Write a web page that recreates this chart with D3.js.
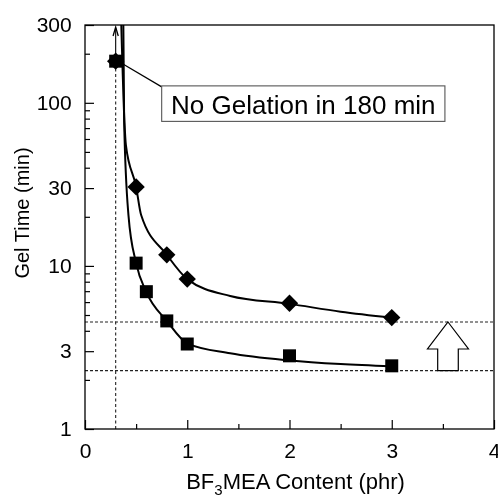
<!DOCTYPE html>
<html>
<head>
<meta charset="utf-8">
<script src="https://cdn.jsdelivr.net/npm/d3@7"></script>
<style>
  html, body { margin: 0; padding: 0; background: #fff; }
  svg { display: block; font-family: "Liberation Sans", Arial, Helvetica, sans-serif;
        will-change: transform; -webkit-font-smoothing: antialiased; }
</style>
</head>
<body>
<svg id="chart" width="498" height="495"></svg>
<script>
// Gel time vs. BF3MEA content
const diamondX = [0.3, 0.5, 0.8, 1.0, 2.0, 3.0];
const diamondY = [180, 30.5, 11.7, 8.3, 5.9, 4.82];
const squareX  = [0.3, 0.5, 0.6, 0.8, 1.0, 2.0, 3.0];
const squareY  = [180, 10.4, 6.95, 4.6, 3.32, 2.81, 2.44];

// fitted trend lines (sampled)
const diamondFitX = [0.355, 0.386, 0.40, 0.5, 0.549, 0.8, 1.0, 1.42, 2.0, 2.5, 3.0];
const diamondFitY = [300, 76, 55, 30.5, 20.5, 11.7, 8.3, 6.54, 5.85, 5.24, 4.82];
const squareFitX  = [0.375, 0.383, 0.425, 0.5, 0.6, 0.8, 1.0, 1.42, 2.0, 2.5, 3.0];
const squareFitY  = [300, 76, 20.5, 10.4, 6.9, 4.6, 3.35, 2.91, 2.63, 2.5, 2.42];

// reference levels
const refLevels = [4.53, 2.28];
const noGelX = 0.3;

const xMajorTicks = [0, 1, 2, 3, 4];
const xTickLabels = ["0", "1", "2", "3", "4"];
const xMinorTicks = [0.5, 1.5, 2.5, 3.5];
const yMajorTicks = [1, 3, 10, 30, 100, 300];
const yTickLabels = ["1", "3", "10", "30", "100", "300"];
const yMinorTicks = [2, 4, 5, 6, 7, 8, 9, 20, 40, 50, 60, 70, 80, 90, 200];

const calloutText = "No Gelation in 180 min";

const svg = d3.select("#chart");
const L = 85, T = 25, R = 494, B = 429;

const x = d3.scaleLinear().domain([0, 4]).range([L, R]);
const y = d3.scaleLog().domain([1, 300]).range([B, T]);

const FONT = 21;

// reference dashed lines
svg.append("g").selectAll("line").data(refLevels).join("line")
  .attr("x1", L).attr("x2", R)
  .attr("y1", d => y(d)).attr("y2", d => y(d))
  .attr("stroke", "#222").attr("stroke-width", 1.1)
  .attr("stroke-dasharray", "3,2");

// vertical dashed line at the no-gelation content, arrow upward
const vx = x(noGelX);
svg.append("line")
  .attr("x1", vx).attr("x2", vx)
  .attr("y1", B).attr("y2", y(180))
  .attr("stroke", "#222").attr("stroke-width", 1.1)
  .attr("stroke-dasharray", "3,2.5");
svg.append("line")
  .attr("x1", vx).attr("x2", vx)
  .attr("y1", y(180)).attr("y2", T + 3)
  .attr("stroke", "#000").attr("stroke-width", 1.1);
svg.append("path")
  .attr("d", `M${vx - 2.6},${T + 11} L${vx},${T + 2} L${vx + 2.6},${T + 11}`)
  .attr("fill", "none").attr("stroke", "#000").attr("stroke-width", 1.3);

// hollow arrow between the reference levels
{
  const ax = x(3.55), top = y(refLevels[0]), bot = y(refLevels[1]);
  const headBase = top + 27, hw = 20.5, sw = 10.3;
  svg.append("path")
    .attr("d", `M${ax},${top} L${ax + hw},${headBase} L${ax + sw},${headBase} L${ax + sw},${bot}
                L${ax - sw},${bot} L${ax - sw},${headBase} L${ax - hw},${headBase} Z`)
    .attr("fill", "#fff").attr("stroke", "#000").attr("stroke-width", 1.2)
    .attr("stroke-linejoin", "miter");
}

// fitted curves
const line = d3.line().x(d => x(d[0])).y(d => y(d[1])).curve(d3.curveMonotoneX);
svg.append("path")
  .datum(diamondFitX.map((v, i) => [v, diamondFitY[i]]))
  .attr("d", line).attr("fill", "none").attr("stroke", "#000").attr("stroke-width", 2);
svg.append("path")
  .datum(squareFitX.map((v, i) => [v, squareFitY[i]]))
  .attr("d", line).attr("fill", "none").attr("stroke", "#000").attr("stroke-width", 2);

// callout leader and box
const bx0 = x(0.75), by0 = y(127), bx1 = x(3.52), by1 = by0 + 35.5;
svg.append("line")
  .attr("x1", x(noGelX) + 6).attr("y1", y(180) + 2)
  .attr("x2", bx0).attr("y2", by0 + 1)
  .attr("stroke", "#000").attr("stroke-width", 1.2);
svg.append("rect")
  .attr("x", bx0).attr("y", by0)
  .attr("width", bx1 - bx0).attr("height", by1 - by0)
  .attr("fill", "#fff").attr("stroke", "#555").attr("stroke-width", 1.1);
svg.append("text")
  .attr("x", (bx0 + bx1) / 2).attr("y", (by0 + by1) / 2 + 10)
  .attr("text-anchor", "middle")
  .attr("font-size", 26).attr("fill", "#000")
  .text(calloutText);

// markers
const square = d3.symbol().type(d3.symbolSquare).size(169);
const diamond = d3.symbol().type(d3.symbolSquare).size(150);
svg.append("g").selectAll("path").data(squareX.map((v, i) => [v, squareY[i]])).join("path")
  .attr("transform", d => `translate(${x(d[0])},${y(d[1])})`)
  .attr("d", square).attr("fill", "#000");
svg.append("g").selectAll("path").data(diamondX.map((v, i) => [v, diamondY[i]])).join("path")
  .attr("transform", d => `translate(${x(d[0])},${y(d[1])}) rotate(45)`)
  .attr("d", diamond).attr("fill", "#000");

// frame
svg.append("rect")
  .attr("x", L).attr("y", T).attr("width", R - L).attr("height", B - T)
  .attr("fill", "none").attr("stroke", "#000").attr("stroke-width", 1.3);

// axes (ticks point inward)
const xAxis = d3.axisBottom(x).tickValues(xMajorTicks)
  .tickFormat((d, i) => xTickLabels[i]).tickSize(-9).tickPadding(13.8);
const gx = svg.append("g").attr("transform", `translate(0,${B})`).call(xAxis);
svg.append("g").attr("transform", `translate(0,${B})`)
  .call(d3.axisBottom(x).tickValues(xMinorTicks).tickFormat("").tickSize(-5));

const yAxis = d3.axisLeft(y).tickValues(yMajorTicks)
  .tickFormat((d, i) => yTickLabels[i]).tickSize(-9).tickPadding(13.3);
const gy = svg.append("g").attr("transform", `translate(${L},0)`).call(yAxis);
svg.append("g").attr("transform", `translate(${L},0)`)
  .call(d3.axisLeft(y).tickValues(yMinorTicks).tickFormat("").tickSize(-5));

svg.selectAll(".domain").remove();
svg.selectAll(".tick line").attr("stroke", "#000").attr("stroke-width", 1.2);
svg.selectAll(".tick text")
  .attr("font-family", "'Liberation Sans', Arial, sans-serif")
  .attr("font-size", FONT).attr("fill", "#000");

// axis titles
const xt = svg.append("text")
  .attr("x", (L + R) / 2 + 6).attr("y", 489.3)
  .attr("text-anchor", "middle").attr("font-size", 22).attr("fill", "#000");
xt.append("tspan").text("BF");
xt.append("tspan").attr("font-size", 15).attr("dy", 5.5).text("3");
xt.append("tspan").attr("dy", -5.5).text("MEA Content (phr)");

svg.append("text")
  .attr("transform", `translate(29,213) rotate(-90)`)
  .attr("text-anchor", "middle").attr("font-size", 20).attr("fill", "#000")
  .text("Gel Time (min)");
</script>
</body>
</html>
